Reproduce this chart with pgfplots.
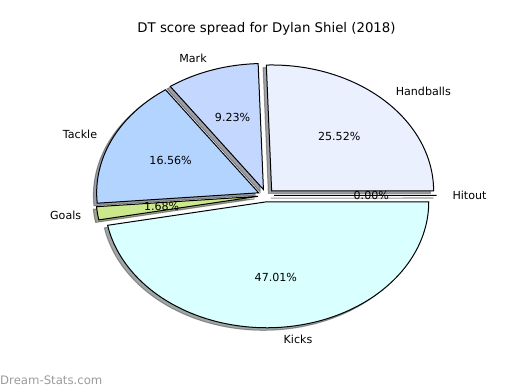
\documentclass[border=0pt]{standalone}
\usepackage{pgfplots}
\pgfplotsset{compat=1.18}
\usepackage{fontspec}
\setmainfont{DejaVu Sans}
\definecolor{cHand}{RGB}{235,240,255}
\definecolor{cMark}{RGB}{196,215,255}
\definecolor{cTack}{RGB}{179,212,255}
\definecolor{cGoal}{RGB}{204,232,140}
\definecolor{cKick}{RGB}{217,255,255}
\definecolor{cHit}{RGB}{235,235,235}
\definecolor{wm}{RGB}{155,155,155}

% pie geometry (pixels of the 520x390 picture)
\def\cx{266}\def\cy{195.5}\def\rx{162}\def\ry{126}\def\ex{0.05}
\def\cum{0}
\newcommand\defslice[2]{%
  \pgfmathsetmacro\tmpS{\cum}%
  \pgfmathsetmacro\tmpE{\cum+3.6*#2}%
  \pgfmathsetmacro\tmpD{\tmpE+0.01}%
  \pgfmathtruncatemacro\tmpN{max(2,3.6*#2*0.6+2)}%
  \pgfmathsetmacro\tmpM{(\tmpS+\tmpE)/2}%
  \pgfmathsetmacro\tmpX{\cx+\ex*\rx*cos(\tmpM)}%
  \pgfmathsetmacro\tmpY{\cy-\ex*\ry*sin(\tmpM)}%
  \pgfmathsetmacro\tmpLX{\tmpX+1.1*\rx*cos(\tmpM)}%
  \pgfmathsetmacro\tmpLY{\tmpY-1.1*\ry*sin(\tmpM)}%
  \pgfmathsetmacro\tmpPX{\tmpX+0.6*\rx*cos(\tmpM)}%
  \pgfmathsetmacro\tmpPY{\tmpY-0.6*\ry*sin(\tmpM)}%
  \pgfmathsetmacro\tmpC{cos(\tmpM)}%
  \ifdim\tmpC pt>0pt \def\tmpA{west}\else\def\tmpA{east}\fi
  \expandafter\let\csname s#1\endcsname\tmpS
  \expandafter\let\csname e#1\endcsname\tmpD
  \expandafter\let\csname n#1\endcsname\tmpN
  \expandafter\let\csname x#1\endcsname\tmpX
  \expandafter\let\csname y#1\endcsname\tmpY
  \expandafter\let\csname lx#1\endcsname\tmpLX
  \expandafter\let\csname ly#1\endcsname\tmpLY
  \expandafter\let\csname px#1\endcsname\tmpPX
  \expandafter\let\csname py#1\endcsname\tmpPY
  \expandafter\let\csname a#1\endcsname\tmpA
  \let\cum\tmpE
}
\newcommand\shadowslice[2]{%
  \edef\temp{\noexpand\addplot[draw=#2!30!black, fill=#2!30!black, opacity=0.5, line width=1pt,
    domain=\csname s#1\endcsname:\csname e#1\endcsname, samples=\csname n#1\endcsname, variable=\noexpand\t]
    ({\csname x#1\endcsname-3.24+\rx*cos(\noexpand\t)}, {\csname y#1\endcsname+2.52-\ry*sin(\noexpand\t)})
    -- (axis cs:\csname x#1\endcsname-3.24,\csname y#1\endcsname+2.52) -- cycle;}%
  \temp}
\newcommand\drawslice[2]{%
  \edef\temp{\noexpand\addplot[draw=black, fill=#2, line width=1pt,
    domain=\csname s#1\endcsname:\csname e#1\endcsname, samples=\csname n#1\endcsname, variable=\noexpand\t]
    ({\csname x#1\endcsname+\rx*cos(\noexpand\t)}, {\csname y#1\endcsname-\ry*sin(\noexpand\t)})
    -- (axis cs:\csname x#1\endcsname,\csname y#1\endcsname) -- cycle;}%
  \temp}
\newcommand\labelslice[3]{%
  \edef\temp{\noexpand\node[anchor=\csname a#1\endcsname, inner sep=0pt, font=\noexpand\lbl]
    at (axis cs:\csname lx#1\endcsname,\csname ly#1\endcsname) {#2};
  \noexpand\node[anchor=center, inner sep=0pt, font=\noexpand\lbl]
    at (axis cs:\csname px#1\endcsname,\csname py#1\endcsname) {#3\noexpand\%};}%
  \temp}
\newcommand\lbl{\fontsize{11.1}{13}\selectfont}

\begin{document}
\begin{tikzpicture}
% slice values (percent), counterclockwise from 0 degrees
\defslice{H}{25.52}% Handballs
\defslice{M}{9.23}%  Mark
\defslice{T}{16.56}% Tackle
\defslice{G}{1.68}%  Goals
\defslice{K}{47.01}% Kicks
\defslice{O}{0.00}%  Hitout
\useasboundingbox (0,0) rectangle (520pt,390pt);
\begin{axis}[at={(0,0)}, anchor=south west, width=520pt, height=390pt, scale only axis,
  xmin=0, xmax=520, ymin=0, ymax=390, y dir=reverse, hide axis, clip=false]
\shadowslice{H}{cHand}
\shadowslice{M}{cMark}
\shadowslice{T}{cTack}
\shadowslice{G}{cGoal}
\shadowslice{K}{cKick}
\shadowslice{O}{cHit}
\drawslice{H}{cHand}
\drawslice{M}{cMark}
\drawslice{T}{cTack}
\drawslice{G}{cGoal}
\drawslice{K}{cKick}
\drawslice{O}{cHit}
\labelslice{H}{Handballs}{25.52}
\labelslice{M}{Mark}{9.23}
\labelslice{T}{Tackle}{16.56}
\labelslice{G}{Goals}{1.68}
\labelslice{K}{Kicks}{47.01}
\labelslice{O}{Hitout}{0.00}
\node[anchor=base, inner sep=0pt, font=\fontsize{13.3}{16}\selectfont] at (axis cs:266.5,33) {DT score spread for Dylan Shiel (2018)};
\node[anchor=base west, inner sep=0pt, text=wm, font=\fontsize{11.7}{14}\selectfont] at (axis cs:0,384.5) {Dream-Stats.com};
\end{axis}
\end{tikzpicture}
\end{document}
